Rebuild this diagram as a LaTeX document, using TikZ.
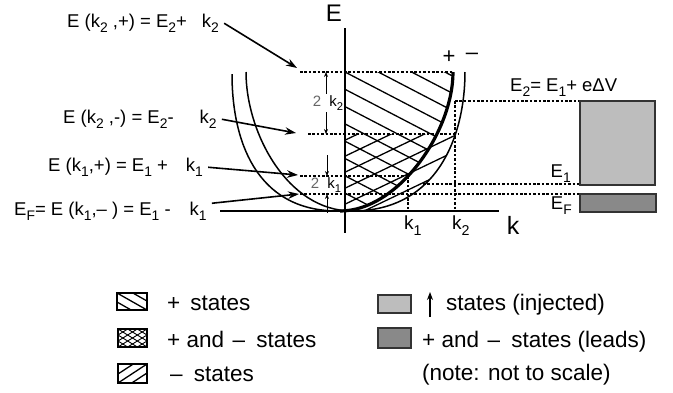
\documentclass[tikz,border=0pt]{standalone}
\usepackage{fontspec}
\setmainfont{Liberation Sans}
\usepackage{graphicx}
\usetikzlibrary{arrows.meta}
\newcommand{\lsub}[1]{\raisebox{-0.32em}{\scalebox{0.75}{#1}}}
\definecolor{lightfill}{HTML}{BDBDBD}
\definecolor{darkfill}{HTML}{898989}
\begin{document}
\begin{tikzpicture}[x=1pt,y=-1pt,
  lbl/.style={inner sep=0pt, anchor=base west, font=\fontsize{18.5}{20}\selectfont},
  leg/.style={inner sep=0pt, anchor=base west, font=\fontsize{22.5}{24}\selectfont},
  thinln/.style={line width=1.5pt},
  thickln/.style={line width=3.2pt},
  dotln/.style={line width=1.3pt, dash pattern=on 2.6pt off 1.8pt},
  hatch/.style={line width=1.3pt},
  ptr/.style={line width=1.6pt, -{Stealth[length=11pt,width=7.5pt]}},
  sptr/.style={line width=1pt, -{Stealth[length=5pt,width=4pt]}},
  boxln/.style={line width=1.1pt, draw=black!80},
]
\useasboundingbox (0,0) rectangle (673,392);

% ---------- hatching of + states (\ lines) ----------
\begin{scope}
  \clip (345,72) rectangle (480,211);
  \clip (453,72) .. controls (453,132) and (398,211) .. (338,211) -- (300,211) -- (300,72) -- cycle;
  \foreach \n in {-8,...,8} {
    \draw[hatch] (340,{72+17.3*\n-2.6}) -- (480,{72+17.3*\n+70.2});
  }
\end{scope}
% ---------- hatching of - states (/ lines) ----------
\begin{scope}
  \clip (345,134) rectangle (480,211);
  \clip (465,72) .. controls (465,132) and (440,211) .. (352,211) -- (300,211) -- (300,72) -- cycle;
  \foreach \n in {-7,...,3} {
    \draw[hatch] (340,{188.2+16*\n+2.4}) -- (480,{188.2+16*\n-64.8});
  }
\end{scope}

% ---------- axes ----------
\coordinate (kL) at (220,211);
\coordinate (kR) at (499,211);
\coordinate (eT) at (345,28);
\coordinate (eB) at (345,233);
\draw[thinln] (kL) -- (kR);
\draw[thinln] (eT) -- (eB);

% ---------- dispersion curves ----------
\draw[thinln] (232,74) .. controls (232,139) and (255,211) .. (338,211);
\draw[thickln] (340,211) .. controls (398,211) and (453,132) .. (453,72);
\draw[thinln] (246,72) .. controls (246,132) and (287,211) .. (352,211)
  .. controls (440,211) and (465,132) .. (465,72);

% ---------- dotted levels ----------
\coordinate (d1a) at (300,72);  \coordinate (d1b) at (453,72);
\coordinate (d2a) at (455,101); \coordinate (d2b) at (580,101);
\coordinate (d3a) at (308,134); \coordinate (d3b) at (458,134);
\coordinate (d4a) at (300,176); \coordinate (d4b) at (408,176);
\coordinate (d5a) at (423,184); \coordinate (d5b) at (580,184);
\coordinate (d6a) at (300,194); \coordinate (d6b) at (580,194);
\coordinate (v1b) at (408,211);
\coordinate (v2b) at (455,211);
\draw[dotln] (d1a) -- (d1b);
\draw[dotln] (d2a) -- (d2b);
\draw[dotln] (d3a) -- (d3b);
\draw[dotln] (d4a) -- (d4b);
\draw[dotln] (d5a) -- (d5b);
\draw[dotln] (d6a) -- (d6b);
\draw[dotln] (d4b) -- (v1b);
\draw[dotln] (d2a) -- (v2b);

% ---------- reservoir boxes ----------
\draw[boxln, fill=lightfill] (580,101) rectangle (655,185);
\draw[boxln, fill=darkfill] (580,194) rectangle (656,212);

% ---------- axis labels ----------
\node[inner sep=0pt, font=\fontsize{24}{26}\selectfont] (Elab) at (334,13) {E};
\node[inner sep=0pt, font=\fontsize{25}{27}\selectfont] (klab) at (513,225) {k};
\node[inner sep=0pt, font=\fontsize{22}{24}\selectfont] (plus) at (449,57) {+};
\node[inner sep=0pt, font=\fontsize{22}{24}\selectfont] (minus) at (472,56) {–};
\node[inner sep=0pt, anchor=base west, font=\fontsize{19}{21}\selectfont] (k1lab) at (404,229) {k\lsub{1}};
\node[inner sep=0pt, anchor=base west, font=\fontsize{19}{21}\selectfont] (k2lab) at (452,229) {k\lsub{2}};

% ---------- right labels ----------
\node[lbl] (E2lab) at (510,91) {E\lsub{2}= E\lsub{1}+ eΔV};
\node[lbl, anchor=base east] (E1lab) at (571,177) {E\lsub{1}};
\node[lbl, anchor=base east] (EFlab) at (572,209) {E\lsub{F}};

% ---------- left labels and pointers ----------
\node[lbl] (l1) at (67,27) {E (k\lsub{2} ,+) = E\lsub{2}+\hspace{15pt}k\lsub{2}};
\node[lbl] (l2) at (63,123) {E (k\lsub{2} ,-) = E\lsub{2}-\hspace{26pt}k\lsub{2}};
\node[lbl] (l3) at (48,171) {E (k\lsub{1},+) = E\lsub{1} +\hspace{18pt}k\lsub{1}};
\node[lbl] (l4) at (14,215) {E\lsub{F}= E (k\lsub{1},– ) = E\lsub{1} -\hspace{19pt}k\lsub{1}};
\coordinate (t1) at (297,68);
\coordinate (t2) at (296,133);
\coordinate (t3) at (298,175);
\coordinate (t4) at (299,194);
\draw[ptr] ([xshift=5pt]l1.east) -- (t1);
\draw[ptr] ([xshift=5pt]l2.east) -- (t2);
\draw[ptr] ([xshift=5pt]l3.east) -- (t3);
\draw[ptr] ([xshift=5pt,yshift=8pt]l4.east) -- (t4);

% ---------- splitting annotations ----------
\node[inner sep=1pt, font=\fontsize{15}{16}\selectfont] (a2) at (328,103)
  {\textcolor{black!60}{2}\hspace{0.55em}k\lsub{2}};
\coordinate (u2) at (326,72);
\coordinate (w2) at (326,134);
\draw[sptr] (a2.north -| u2) -- (u2);
\draw[sptr] (a2.south -| w2) -- (w2);
\node[inner sep=0pt, font=\fontsize{15}{16}\selectfont] (a1) at (326,185)
  {\textcolor{black!60}{2}\hspace{0.55em}k\lsub{1}};
\coordinate (u1s) at (327,155);
\coordinate (u1) at (327,176);
\coordinate (w1s) at (327,213);
\coordinate (w1) at (327,194);
\draw[sptr] (u1s) -- (u1);
\draw[sptr] (w1s) -- (w1);

% ---------- legend ----------
\begin{scope}
  \clip (117,293) rectangle (147,310);
  \foreach \d in {-9,0,9} \draw[hatch] (117,293+\d) -- (147,310+\d);
\end{scope}
\draw[boxln, draw=black] (117,293) rectangle (147,310);
\begin{scope}
  \clip (118,329) rectangle (147,347);
  \foreach \d in {-12,-6,0,6,12} {
    \draw[line width=0.9pt] (118,329+\d) -- (147,347+\d);
    \draw[line width=0.9pt] (118,347+\d) -- (147,329+\d);
  }
\end{scope}
\draw[boxln, draw=black] (118,329) rectangle (147,347);
\begin{scope}
  \clip (118,364) rectangle (147,383);
  \foreach \d in {-9,0,9} \draw[hatch] (118,383+\d) -- (147,364+\d);
\end{scope}
\draw[boxln, draw=black] (118,364) rectangle (147,383);

\node[leg] (g1) at (167,310) {+\hspace{0.45em}states};
\node[leg] (g2) at (167,347) {+ and\hspace{0.38em}–\hspace{0.5em}states};
\node[leg] (g3) at (170,381) {–\hspace{0.5em}states};

\draw[boxln, fill=lightfill] (378,295) rectangle (411,313);
\draw[boxln, fill=darkfill] (378,328) rectangle (411,348);
\coordinate (upa) at (430,317);
\coordinate (upb) at (430,292);
\draw[line width=1.2pt, -{Stealth[length=8pt,width=6pt]}] (upa) -- (upb);
\node[leg] (g4) at (446,310) {states (injected)};
\node[leg] (g5) at (422,347) {+ and\hspace{0.38em}–\hspace{0.5em}states (leads)};
\node[leg] (g6) at (422,380) {(note: not to scale)};
\end{tikzpicture}
\end{document}
